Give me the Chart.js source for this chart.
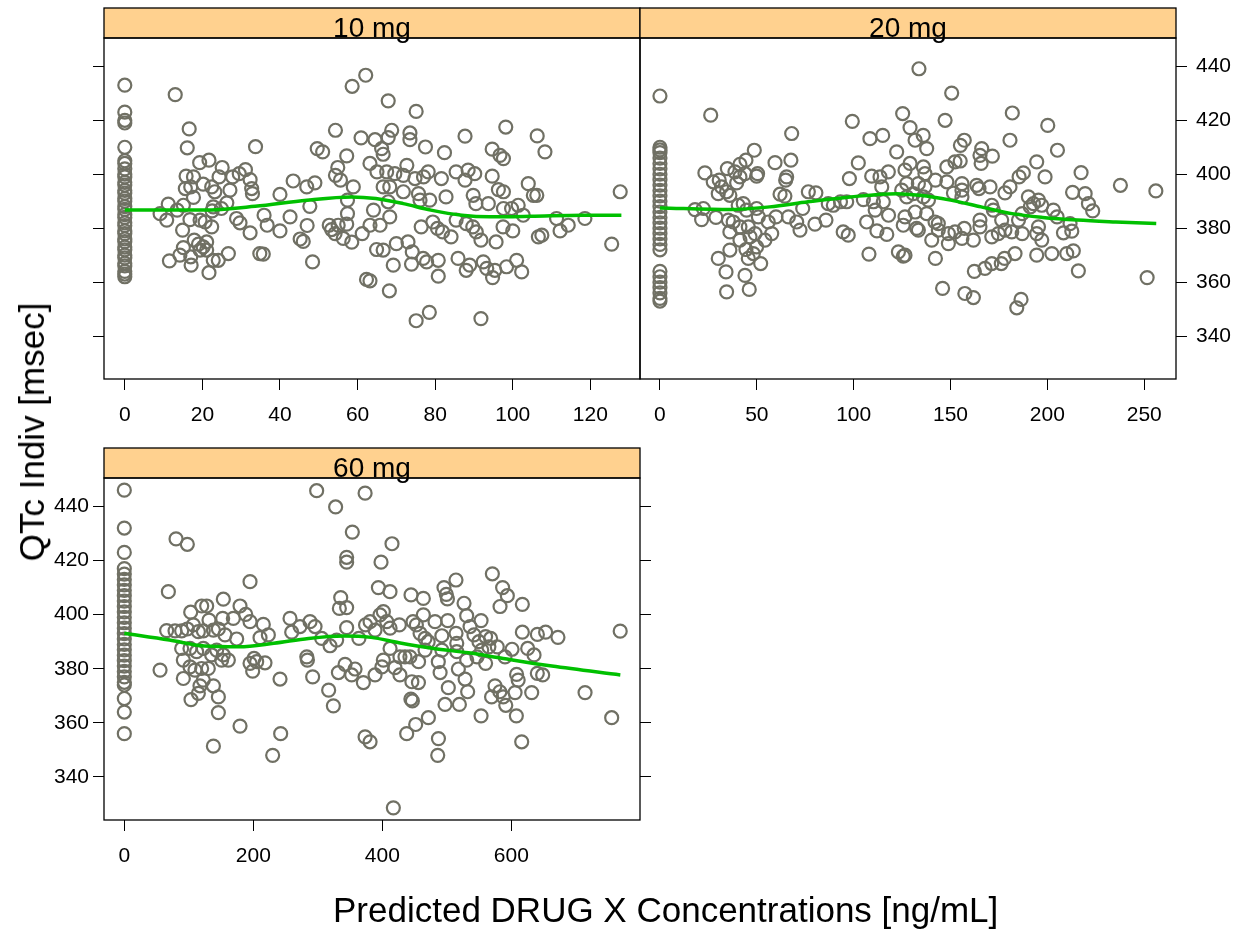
<!DOCTYPE html>
<html>
<head>
<meta charset="utf-8">
<script src="https://cdn.jsdelivr.net/npm/chart.js@4.4.1/dist/chart.umd.min.js"></script>
<style>
  body { margin: 0; background: #fff; width: 1239px; height: 935px; position: relative; overflow: hidden;
         font-family: "Liberation Sans", Arial, sans-serif; }
  canvas { position: absolute; }
  .ttl { position: absolute; font-size: 35px; line-height: 40px; color: #000; white-space: nowrap; }
</style>
</head>
<body>
<canvas id="p10" width="645" height="440" style="left:0;top:0"></canvas>
<canvas id="p20" width="604" height="440" style="left:635px;top:0"></canvas>
<canvas id="p60" width="700" height="460" style="left:0;top:440px"></canvas>
<div class="ttl" id="xt" style="left:333px;top:890px">Predicted DRUG X Concentrations [ng/mL]</div>
<div class="ttl" id="yt" style="left:32px;top:432px;transform:translate(-50%,-50%) rotate(-90deg)">QTc Indiv [msec]</div>

<script>
// panel labels and tick labels
const doses = ['10 mg', '20 mg', '60 mg'];
const xTicks10 = [0, 20, 40, 60, 80, 100, 120];
const xTicks20 = [0, 50, 100, 150, 200, 250];
const xTicks60 = [0, 200, 400, 600];
const yTicks = [340, 360, 380, 400, 420, 440];

// QTc at concentration 0 (pre-dose) per panel
const base10 = [433, 423, 420, 419, 410, 405, 404, 402, 400, 399, 397, 396, 394, 393, 391, 390, 388, 387,
  385, 384, 382, 381, 379, 378, 376, 375, 373, 372, 370, 369, 367, 366, 364, 363, 362];
const base20 = [429, 410, 409, 408, 406, 404, 402, 400, 398, 396, 394, 392, 390, 388, 386, 384, 382, 380,
  378, 376, 374, 372, 364, 362, 360, 358, 356, 354, 353];
const base60 = [446, 432, 423, 417, 415, 413, 411, 409, 407, 405, 403, 401, 399, 397, 395, 393, 391, 389,
  387, 385, 383, 381, 379, 377, 375, 374, 369, 364, 356];

// [concentration, QTc] after dosing
const obs10 = [[13.0,429.5],[16.6,416.8],[16.1,409.8],[33.7,410.2],[19.3,404.3],[21.7,405.2],[25.1,402.5],
  [15.8,399.3],[17.7,399.0],[15.6,394.7],[17.0,395.3],[17.7,391.4],[20.2,396.3],[22.4,395.3],[23.2,393.5],
  [24.3,399.0],[27.1,394.1],[27.8,399.0],[29.5,400.2],[31.1,401.7],[32.3,398.0],[32.7,394.7],[32.9,392.8],
  [26.3,389.4],[24.9,387.3],[22.8,387.9],[22.5,386.4],[11.2,388.9],[9.1,385.4],[10.8,383.0],[13.5,386.7],
  [15.1,388.5],[16.8,383.2],[19.4,383.0],[20.7,382.3],[22.4,380.5],[14.9,379.3],[28.8,383.6],[29.7,382.0],
  [32.3,378.3],[35.9,384.8],[36.7,381.1],[40.0,392.5],[40.0,379.0],[42.6,384.2],[43.4,397.5],[46.9,395.3],
  [49.0,396.8],[47.0,381.0],[47.7,388.1],[45.2,376.0],[46.0,375.1],[48.4,367.5],[49.6,409.5],[51.0,408.3],
  [54.3,416.3],[57.2,406.8],[54.9,402.5],[54.3,399.6],[55.6,397.8],[58.9,395.3],[57.4,390.4],[57.4,385.4],
  [57.2,381.5],[55.0,381.1],[52.7,381.1],[53.3,379.5],[54.2,378.0],[56.3,376.2],[58.5,374.8],[61.2,378.0],
  [58.6,432.6],[62.1,436.7],[60.9,413.5],[62.3,361.0],[17.9,375.6],[19.0,374.1],[20.2,373.1],[21.1,374.9],
  [19.4,371.9],[21.1,371.9],[11.5,367.9],[14.2,370.0],[15.1,372.8],[17.1,366.3],[21.7,363.5],[22.8,368.1],
  [24.1,368.1],[26.7,370.6],[34.8,370.6],[35.7,370.4],[17.0,369.4],[67.9,427.2],[75.1,423.3],[68.8,416.3],
  [73.5,415.3],[73.5,412.8],[67.9,413.6],[64.5,412.8],[66.2,409.5],[66.6,407.4],[77.5,410.1],[82.4,408.0],
  [87.7,414.1],[98.2,417.5],[106.3,414.2],[108.3,408.3],[94.7,409.3],[96.7,407.0],[97.6,405.8],[63.2,404.0],
  [65.0,400.9],[67.5,400.9],[69.6,400.2],[71.8,399.6],[72.7,403.3],[74.8,398.4],[77.0,399.0],[78.2,400.9],
  [81.6,398.4],[85.4,400.9],[88.5,401.5],[90.2,400.2],[87.7,397.8],[94.7,399.3],[96.3,394.3],[97.6,393.5],
  [104.0,396.5],[105.3,392.2],[106.2,392.2],[127.7,393.5],[66.6,395.3],[68.3,395.3],[71.8,393.5],[75.7,392.8],
  [76.1,390.4],[78.6,390.4],[67.9,389.8],[82.8,391.6],[89.8,392.2],[90.5,389.1],[93.7,389.1],[97.6,387.3],
  [99.7,387.3],[101.4,388.5],[102.7,384.8],[111.3,383.6],[114.3,381.1],[118.6,383.6],[64.1,386.7],[68.3,384.2],
  [76.4,380.5],[79.4,382.3],[80.6,379.9],[81.9,378.6],[84.1,376.8],[85.4,383.0],[88.0,381.7],[89.7,380.5],
  [90.6,378.6],[91.8,375.6],[95.7,374.9],[97.5,380.5],[100.0,379.0],[106.6,376.8],[107.5,377.4],[112.2,379.0],
  [125.5,374.1],[63.2,381.1],[65.8,381.1],[64.9,372.1],[66.6,371.9],[70.0,374.3],[73.0,374.9],[74.1,371.2],
  [76.9,368.8],[77.8,367.5],[80.8,368.1],[85.9,368.8],[88.0,364.4],[88.9,366.3],[92.4,367.5],[93.3,365.1],
  [95.4,364.4],[98.4,365.7],[101.0,368.1],[102.3,363.8],[69.2,366.3],[73.9,366.7],[80.8,362.2],[94.8,361.7],
  [63.2,360.5],[68.2,356.8],[75.1,345.7],[78.5,348.8],[91.8,346.5]];

const obs20 = [[26.2,421.9],[68.0,415.1],[48.7,408.9],[44.4,405.2],[41.3,403.7],[59.4,404.3],[67.6,405.2],
  [65.4,399.0],[64.9,397.8],[50.4,400.2],[49.9,399.3],[23.2,400.5],[34.8,402.1],[38.7,400.9],[41.3,399.0],
  [43.9,400.2],[27.5,397.2],[30.6,397.8],[31.8,395.3],[34.4,393.5],[36.1,392.2],[30.1,392.8],[39.6,396.8],
  [62.0,392.6],[64.5,391.9],[76.6,393.5],[80.5,393.1],[73.7,387.3],[18.1,386.9],[22.4,387.3],[21.5,383.2],
  [28.9,384.0],[35.3,383.0],[37.8,382.3],[40.4,388.5],[43.0,389.1],[44.7,386.7],[49.9,387.3],[50.8,384.2],
  [45.6,380.5],[41.3,380.5],[36.1,378.6],[41.3,375.6],[46.5,376.8],[49.1,378.0],[54.2,375.6],[57.7,378.0],
  [55.9,382.3],[59.9,384.2],[66.3,384.2],[70.6,382.3],[72.3,379.3],[80.0,381.5],[85.7,383.0],[86.9,389.1],
  [89.5,388.5],[93.2,389.8],[96.4,389.8],[94.6,378.6],[97.2,377.4],[97.8,398.4],[102.4,404.2],[99.3,419.6],
  [108.4,413.2],[115.0,414.4],[122.2,408.3],[125.3,422.5],[109.3,399.3],[113.6,399.0],[117.9,400.9],[114.5,395.3],
  [115.3,389.8],[110.2,389.8],[111.1,386.7],[105.0,390.6],[106.7,382.3],[112.0,379.0],[117.1,377.7],[118.0,384.8],
  [107.9,370.4],[123.1,371.2],[125.6,369.6],[30.1,368.8],[36.1,371.9],[34.1,363.8],[43.9,362.5],[45.6,368.8],
  [48.2,370.6],[49.9,373.1],[52.0,366.9],[34.4,356.4],[46.1,357.3],[44.4,372.1],[133.7,439.1],[150.6,430.1],
  [147.2,420.0],[181.9,422.7],[200.2,418.1],[180.7,412.6],[205.2,408.9],[129.1,417.3],[131.7,412.6],[135.9,414.4],
  [137.7,409.5],[155.1,410.7],[157.1,412.6],[166.1,409.5],[165.2,407.0],[165.8,404.0],[171.6,406.7],[126.5,401.5],
  [129.1,404.0],[136.0,402.7],[136.8,400.2],[148.1,402.7],[152.3,404.6],[155.0,404.9],[194.5,404.6],[217.4,400.6],
  [198.8,399.0],[187.6,400.5],[185.4,399.0],[180.7,395.3],[178.1,393.1],[237.7,395.9],[256.0,393.8],[133.4,396.5],
  [136.8,395.3],[130.8,392.8],[138.6,390.4],[136.0,391.6],[142.2,397.8],[148.1,397.2],[155.9,396.5],[155.9,394.1],
  [155.9,391.6],[151.5,393.0],[163.5,395.9],[164.7,394.7],[170.4,395.3],[171.3,388.5],[172.1,386.7],[190.2,391.6],
  [192.8,389.1],[195.4,390.4],[197.1,388.5],[191.2,387.9],[187.0,385.4],[185.1,383.0],[176.4,383.0],[203.1,386.7],
  [205.0,384.2],[213.0,393.3],[219.5,392.8],[221.2,389.1],[223.4,386.4],[211.7,381.7],[208.3,378.3],[212.6,378.9],
  [195.4,380.5],[194.5,378.0],[197.1,375.6],[187.0,378.0],[181.6,378.6],[178.1,379.3],[174.7,378.0],[171.3,376.8],
  [165.2,383.0],[165.2,380.5],[161.8,375.6],[157.1,379.9],[152.3,378.6],[155.9,376.2],[148.9,374.3],[148.9,378.0],
  [143.7,381.7],[143.7,379.3],[142.0,382.3],[137.7,385.4],[131.7,386.0],[132.5,379.9],[133.4,379.3],[140.3,375.6],
  [142.2,368.8],[126.5,370.0],[194.5,370.0],[202.3,370.6],[210.0,370.6],[213.4,371.6],[216.0,364.2],[183.3,370.6],
  [176.2,366.9],[177.9,368.8],[171.3,366.9],[167.8,365.1],[162.3,364.0],[145.9,357.7],[157.4,355.8],[161.8,354.3],
  [186.4,353.6],[184.2,350.5],[251.5,361.7],[124.8,394.1],[127.4,391.6],[126.5,384.2],[125.6,381.1],[127.4,396.5]];

const obs60 = [[80.2,428.0],[97.7,426.0],[68.3,408.5],[194.9,412.2],[153.5,405.7],[120.0,403.2],[127.7,403.2],
  [102.9,400.9],[179.4,403.2],[188.2,400.1],[194.9,397.4],[169.0,398.6],[152.5,398.6],[131.3,398.0],[256.9,398.6],
  [272.4,395.6],[287.9,397.4],[295.7,395.6],[215.5,396.4],[223.3,392.5],[210.4,391.5],[174.2,391.0],[259.5,393.5],
  [306.0,391.2],[318.9,388.5],[329.2,390.6],[344.7,395.2],[333.4,402.3],[335.5,406.3],[344.7,402.6],[344.7,421.2],
  [344.7,419.4],[353.5,430.5],[327.6,439.8],[298.2,445.8],[373.3,444.9],[65.6,394.1],[78.6,394.0],[88.9,394.0],
  [97.7,394.7],[107.0,396.2],[114.8,393.7],[122.5,394.0],[138.1,394.3],[145.8,394.7],[156.1,392.5],[88.9,387.5],
  [101.8,387.5],[112.1,386.3],[122.5,387.5],[135.4,385.1],[143.2,386.9],[153.5,385.1],[150.9,383.2],[161.3,383.2],
  [91.5,383.2],[101.8,380.7],[109.5,379.5],[119.9,380.1],[130.2,380.1],[55.4,379.5],[91.5,376.4],[122.5,375.8],
  [117.3,373.7],[114.8,370.9],[138.1,373.7],[145.8,369.6],[103.4,368.6],[145.8,363.8],[194.9,382.0],[201.1,383.8],
  [205.2,382.6],[199.0,379.1],[218.1,382.2],[241.4,376.2],[179.4,358.8],[138.1,351.4],[230.0,348.0],[242.4,356.0],
  [282.9,384.4],[283.9,383.2],[292.0,377.0],[316.8,372.1],[324.1,366.3],[331.9,378.6],[342.2,381.6],[352.5,377.7],
  [357.7,379.9],[370.6,374.9],[373.3,354.8],[381.0,353.0],[363.7,391.2],[374.0,396.2],[415.0,426.2],[398.0,419.4],
  [393.9,410.0],[411.9,408.5],[444.5,407.3],[463.6,406.0],[495.6,410.0],[499.2,407.5],[500.9,405.8],[514.2,412.8],
  [526.7,404.2],[570.6,415.1],[586.5,410.0],[593.8,407.0],[582.5,403.0],[617.1,403.8],[381.0,397.4],[396.4,399.9],
  [401.6,401.1],[406.8,397.4],[412.0,395.0],[388.7,394.3],[426.4,396.2],[447.6,397.4],[452.8,396.2],[463.6,399.9],
  [458.5,393.1],[481.7,397.4],[492.3,392.2],[501.4,397.8],[514.3,393.1],[530.8,399.6],[536.0,395.6],[553.1,397.8],
  [542.1,392.5],[549.8,390.0],[560.1,391.9],[567.9,391.2],[578.2,388.1],[565.2,388.1],[554.1,386.9],[617.1,393.5],
  [640.4,392.7],[653.2,393.5],[672.3,391.6],[768.8,393.9],[412.0,387.5],[466.2,386.9],[471.1,390.0],[466.2,391.2],
  [492.3,386.9],[515.4,389.4],[515.4,386.3],[530.8,383.2],[546.8,384.4],[560.1,382.0],[590.2,384.4],[601.1,387.2],
  [625.4,387.5],[635.2,385.1],[388.7,377.7],[401.6,383.2],[399.4,380.7],[419.6,380.4],[427.3,377.7],[427.3,384.4],
  [435.1,384.4],[442.8,384.4],[456.2,382.6],[486.8,382.6],[489.6,378.6],[517.9,379.9],[528.3,376.2],[532.3,371.5],
  [502.3,373.0],[497.2,366.8],[519.5,366.8],[445.8,375.2],[456.0,374.9],[444.3,368.8],[446.6,368.1],[471.4,361.9],
  [451.7,359.4],[437.8,356.0],[487.0,354.2],[485.9,348.0],[553.1,362.6],[574.7,373.7],[582.2,371.5],[587.4,369.6],
  [591.4,366.5],[569.4,369.6],[605.8,371.2],[608.2,377.9],[610.6,375.8],[631.6,371.2],[640.3,378.3],[648.6,377.7],
  [607.8,362.6],[616.1,353.0],[714.3,371.2],[755.6,361.9],[417.1,328.6]];

// smoothed trend
const fit10 = [[0,386.7],[20.3,386.7],[33.6,388.1],[46.9,390.4],[58.5,391.6],[64.7,391.0],[71.8,389.1],
  [78.9,386.7],[86.9,384.8],[94,384.2],[104.7,384.4],[118,384.8],[128,384.8]];
const fit20 = [[0,387.5],[36.7,386.9],[56.6,387.9],[76.5,389.8],[98.3,391.6],[122.1,392.8],[134,392.2],
  [150,390.4],[165.8,387.9],[181.7,385.4],[197.6,384.0],[215.5,383.0],[235.3,382.3],[256.2,381.7]];
const fit60 = [[0,393.1],[70,390.6],[124,388.4],[177.9,388.1],[231.8,389.4],[285.6,391.2],[339.5,392.1],
  [382.6,391.6],[425.7,389.6],[479.6,387.5],[533.5,385.9],[587.4,383.8],[662.8,381.0],[769,377.7]];

const FONT = '"Liberation Sans", Arial, sans-serif';
const PT = 'rgb(112,112,100)';
const GREEN = '#00c000';
const STRIP = '#ffd18f';
const Y_MIN = 324.1, Y_MAX = 450.5;

const framePlugin = {
  id: 'frame',
  afterDraw(chart, args, o) {
    const { ctx, chartArea: a } = chart;
    const w = a.right - a.left;
    ctx.save();
    ctx.fillStyle = STRIP;
    ctx.fillRect(a.left, a.top - 30, w, 30);
    ctx.strokeStyle = '#000';
    ctx.lineWidth = 1.3;
    ctx.strokeRect(a.left, a.top - 30, w, 30);
    ctx.strokeRect(a.left, a.top, w, a.bottom - a.top);
    ctx.fillStyle = '#000';
    ctx.font = '28px ' + FONT;
    ctx.textAlign = 'center';
    ctx.textBaseline = 'alphabetic';
    ctx.fillText(o.text, (a.left + a.right) / 2, a.top - 1);
    ctx.restore();
  }
};

function tickAxis(pos, min, max, vals, size, showLabels, pad) {
  const horiz = pos === 'bottom';
  return {
    type: 'linear', position: pos, min: min, max: max,
    afterBuildTicks: s => { s.ticks = vals.map(v => ({ value: v })); },
    afterFit: s => { if (horiz) s.height = size; else s.width = size; },
    grid: { drawOnChartArea: false, drawTicks: true, tickLength: 11, color: '#000', lineWidth: 1 },
    border: { display: false },
    ticks: { display: showLabels, color: '#000', font: { size: 21, family: FONT }, padding: pad, maxRotation: 0, autoSkip: false }
  };
}

function panel(id, label, base, obs, fit, xmin, xmax, xticks, scales, pad) {
  const pts = base.map(v => ({ x: 0, y: v })).concat(obs.map(p => ({ x: p[0], y: p[1] })));
  new Chart(document.getElementById(id), {
    type: 'scatter',
    data: {
      datasets: [
        { data: fit.map(p => ({ x: p[0], y: p[1] })), showLine: true, borderColor: GREEN, borderWidth: 3.5,
          pointRadius: 0, cubicInterpolationMode: 'monotone', order: 0, yAxisID: 'y' },
        { data: pts, showLine: false, pointStyle: 'circle', pointRadius: 6.5, borderWidth: 2.2,
          borderColor: PT, backgroundColor: 'rgba(0,0,0,0)', order: 1, yAxisID: 'y' }
      ]
    },
    options: {
      responsive: false, animation: false, devicePixelRatio: 1,
      layout: { padding: pad, autoPadding: false },
      plugins: { legend: { display: false }, tooltip: { enabled: false }, frame: { text: label } },
      scales: Object.assign({ x: tickAxis('bottom', xmin, xmax, xticks, scales.xh, true, 13) }, scales.y)
    },
    plugins: [framePlugin]
  });
}

panel('p10', doses[0], base10, obs10, fit10, -5.36, 132.8, xTicks10,
  { xh: 61, y: { y: tickAxis('left', Y_MIN, Y_MAX, yTicks, 104, false, 4) } },
  { top: 38, right: 5, left: 0, bottom: 0 });

panel('p20', doses[1], base20, obs20, fit20, -10.3, 266.4, xTicks20,
  { xh: 61, y: { y: tickAxis('right', Y_MIN, Y_MAX, yTicks, 63, true, 9) } },
  { top: 38, right: 0, left: 5, bottom: 0 });

panel('p60', doses[2], base60, obs60, fit60, -31.5, 799.5, xTicks60,
  { xh: 80, y: { y: tickAxis('left', Y_MIN, Y_MAX, yTicks, 104, true, 4),
                 y2: tickAxis('right', Y_MIN, Y_MAX, yTicks, 60, false, 4) } },
  { top: 38, right: 0, left: 0, bottom: 0 });
</script>
</body>
</html>
